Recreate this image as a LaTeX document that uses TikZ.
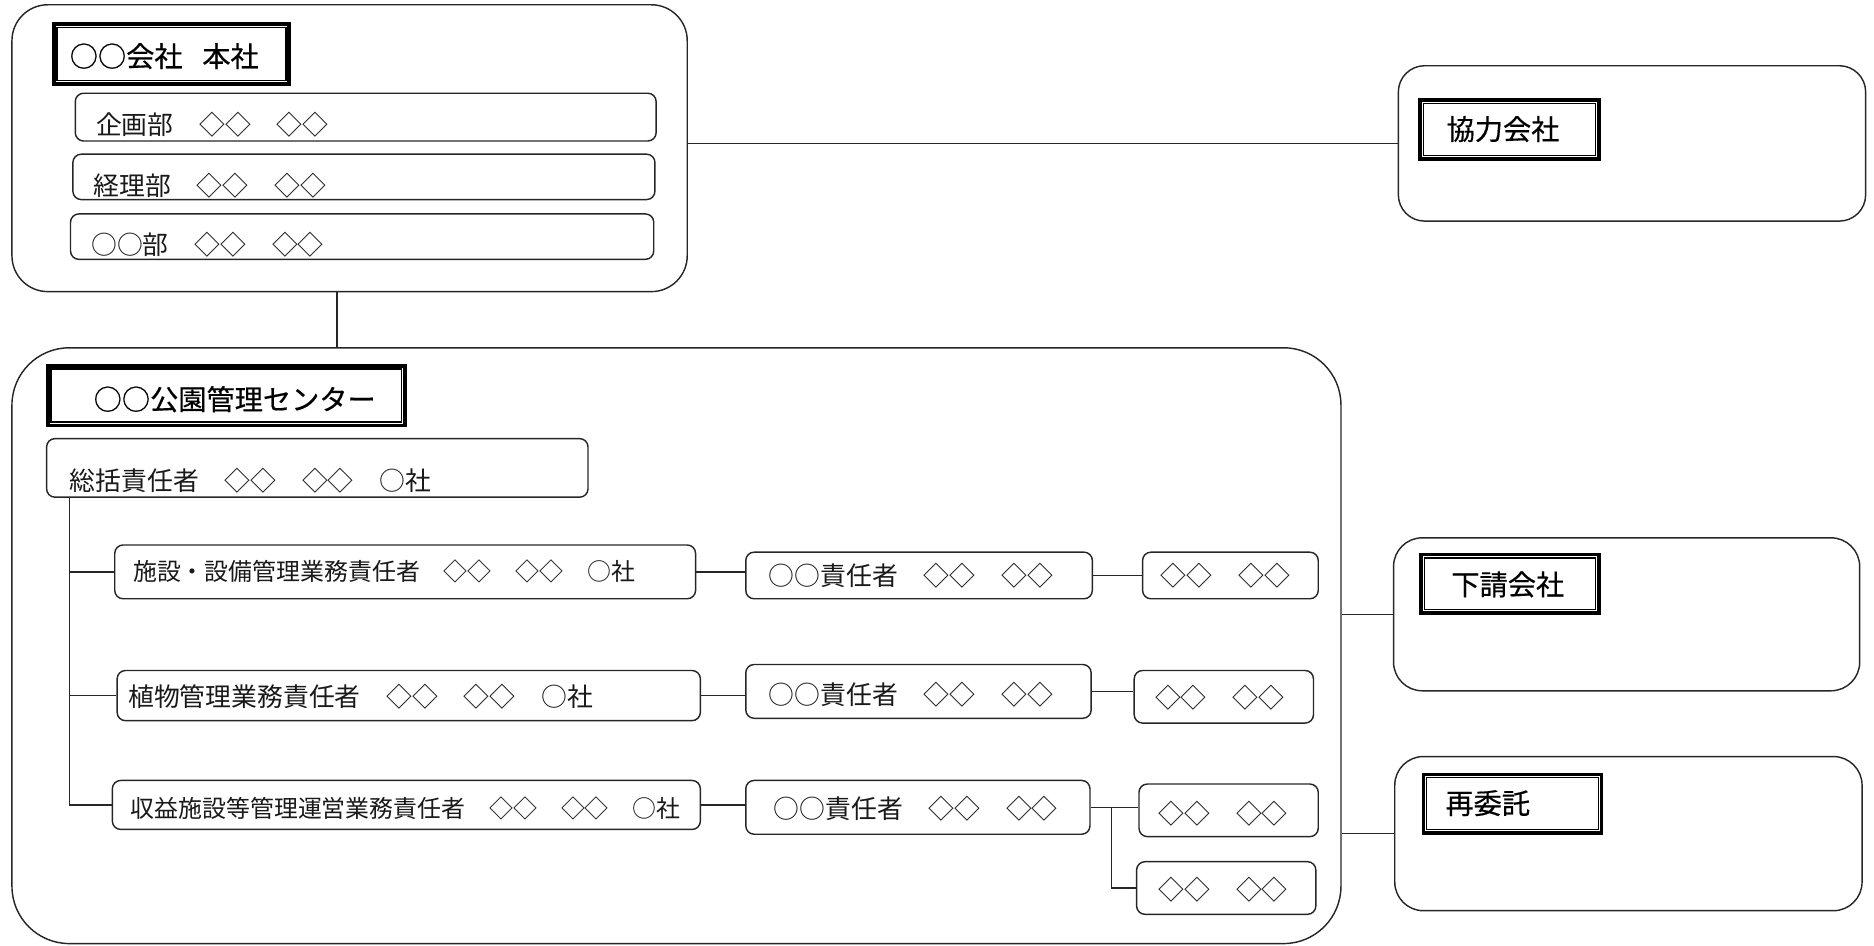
\documentclass[tikz,border=0pt]{standalone}
\usepackage{fontspec}
\setmainfont{Noto Sans CJK JP}
\newfontfamily\ttlfont{Noto Sans CJK JP}[FakeBold=0.5]
\usetikzlibrary{fit}
\tikzset{
  conn/.style={line width=0.55pt, draw=black!85},
  outerbox/.style={draw=black!85, line width=0.6pt, inner sep=0pt},
  smallbox/.style={draw=black!85, line width=0.6pt, rounded corners=3.5pt, inner sep=0pt},
  tframe/.style={draw=black, line width=1.6pt, inner sep=0pt},
  tinner/.style={draw=black, line width=0.55pt},
  ttxt/.style={inner sep=0pt, anchor=west, font=\ttlfont\fontsize{11.8}{13}\selectfont},
  btxt/.style={inner sep=0pt, anchor=west, text=black!90, font=\fontsize{10.8}{12}\selectfont},
  stxt/.style={inner sep=0pt, anchor=west, text=black!90, font=\fontsize{10}{12}\selectfont}
}
\newcommand{\ttlbox}[2]{%
  \node[tframe, fit={#2}] (#1) {};
  \draw[tinner] ([shift={(2.2pt,-2.2pt)}]#1.north west) rectangle ([shift={(-2.2pt,2.2pt)}]#1.south east);
}
\begin{document}
\begin{tikzpicture}[x=0.5pt,y=-0.5pt]
\useasboundingbox (0,0) rectangle (1568,791);

% ---------- HQ ----------
\node[outerbox, rounded corners=15pt, fit={(10,4)(575,244)}] (hq) {};
\ttlbox{hqT}{(45,20)(242,70)}
\node[ttxt] (hqTt) at (58,47) {○○会社\hspace{0.7em}本社};
\node[smallbox, fit={(63,78)(549,118)}] (kik) {};
\node[btxt] (kikt) at (80,104) {企画部　◇◇　◇◇};
\node[smallbox, fit={(61,129)(548,167)}] (kei) {};
\node[btxt] (keit) at (78,155) {経理部　◇◇　◇◇};
\node[smallbox, fit={(59,179)(547,217)}] (oob) {};
\node[btxt] (oobt) at (76,205) {○○部　◇◇　◇◇};

% ---------- partner ----------
\node[outerbox, rounded corners=11pt, fit={(1170,55)(1561,185)}] (ky) {};
\ttlbox{kyT}{(1188,84)(1338,133)}
\node[ttxt] (kyTt) at (1210,108) {協力会社};

% ---------- park center ----------
\node[outerbox, rounded corners=24pt, fit={(10,291)(1122,789.5)}] (park) {};
\ttlbox{parkT}{(40,306)(339,356)}
\node[ttxt] (parkTt) at (78,334) {○○公園管理センター};
\node[smallbox, fit={(39,367)(492,416)}] (gen) {};
\node[btxt] (gent) at (58,402) {総括責任者　◇◇　◇◇　○社};

\node[smallbox, fit={(96,456)(582,501)}] (r1) {};
\node[stxt] (r1t) at (111,478) {施設・設備管理業務責任者　◇◇　◇◇　○社};
\node[smallbox, fit={(98,561)(586,603)}] (r2) {};
\node[btxt] (r2t) at (107,583) {植物管理業務責任者　◇◇　◇◇　○社};
\node[smallbox, fit={(94,653)(586,694)}] (r3) {};
\node[stxt] (r3t) at (109,676) {収益施設等管理運営業務責任者　◇◇　◇◇　○社};

\node[smallbox, fit={(624,462)(914,501)}] (m1) {};
\node[btxt] (m1t) at (643,482) {○○責任者　◇◇　◇◇};
\node[smallbox, fit={(624,556)(913,601)}] (m2) {};
\node[btxt] (m2t) at (643,581) {○○責任者　◇◇　◇◇};
\node[smallbox, fit={(624,653)(912,698)}] (m3) {};
\node[btxt] (m3t) at (647,677) {○○責任者　◇◇　◇◇};

\node[smallbox, fit={(956,462)(1103,501)}] (s1) {};
\node[btxt] (s1t) at (971,482) {◇◇　◇◇};
\node[smallbox, fit={(949,561)(1099,605)}] (s2) {};
\node[btxt] (s2t) at (966,584) {◇◇　◇◇};
\node[smallbox, fit={(953,656)(1103,700)}] (s3) {};
\node[btxt] (s3t) at (969,681) {◇◇　◇◇};
\node[smallbox, fit={(951,721)(1101,765)}] (s4) {};
\node[btxt] (s4t) at (969,744) {◇◇　◇◇};

% ---------- subcontractors ----------
\node[outerbox, rounded corners=12pt, fit={(1166,450)(1556,578)}] (sub) {};
\ttlbox{subT}{(1189,464)(1338,513)}
\node[ttxt] (subTt) at (1214,489) {下請会社};
\node[outerbox, rounded corners=12pt, fit={(1167,633)(1558,762)}] (sai) {};
\ttlbox{saiT}{(1191,648)(1340,697)}
\node[ttxt] (saiTt) at (1209,672) {再委託};

% ---------- connectors ----------
\coordinate (vx) at (282,0);
\coordinate (tk) at (58,0);
\coordinate (jx) at (930,0);
\draw[conn] (ky.west -| hq.east) -- (ky.west);
\draw[conn] (vx |- hq.south) -- (vx |- park.north);
\draw[conn] (tk |- gen.south) -- (tk |- r3.west);
\draw[conn] (tk |- r1.west) -- (r1.west);
\draw[conn] (tk |- r2.west) -- (r2.west);
\draw[conn] (tk |- r3.west) -- (r3.west);
\draw[conn] (r1.east) -- (r1.east -| m1.west);
\draw[conn] (r2.east) -- (r2.east -| m2.west);
\draw[conn] (r3.east) -- (r3.east -| m3.west);
\draw[conn] (m1.east) -- (m1.east -| s1.west);
\draw[conn] (m2.east) -- (m2.east -| s2.west);
\draw[conn] (m3.east) -- (m3.east -| s3.west);
\draw[conn] (jx |- m3.east) |- (s4.west);
\draw[conn] (sub.west -| park.east) -- (sub.west);
\draw[conn] (sai.west -| park.east) -- (sai.west);
\end{tikzpicture}
\end{document}
